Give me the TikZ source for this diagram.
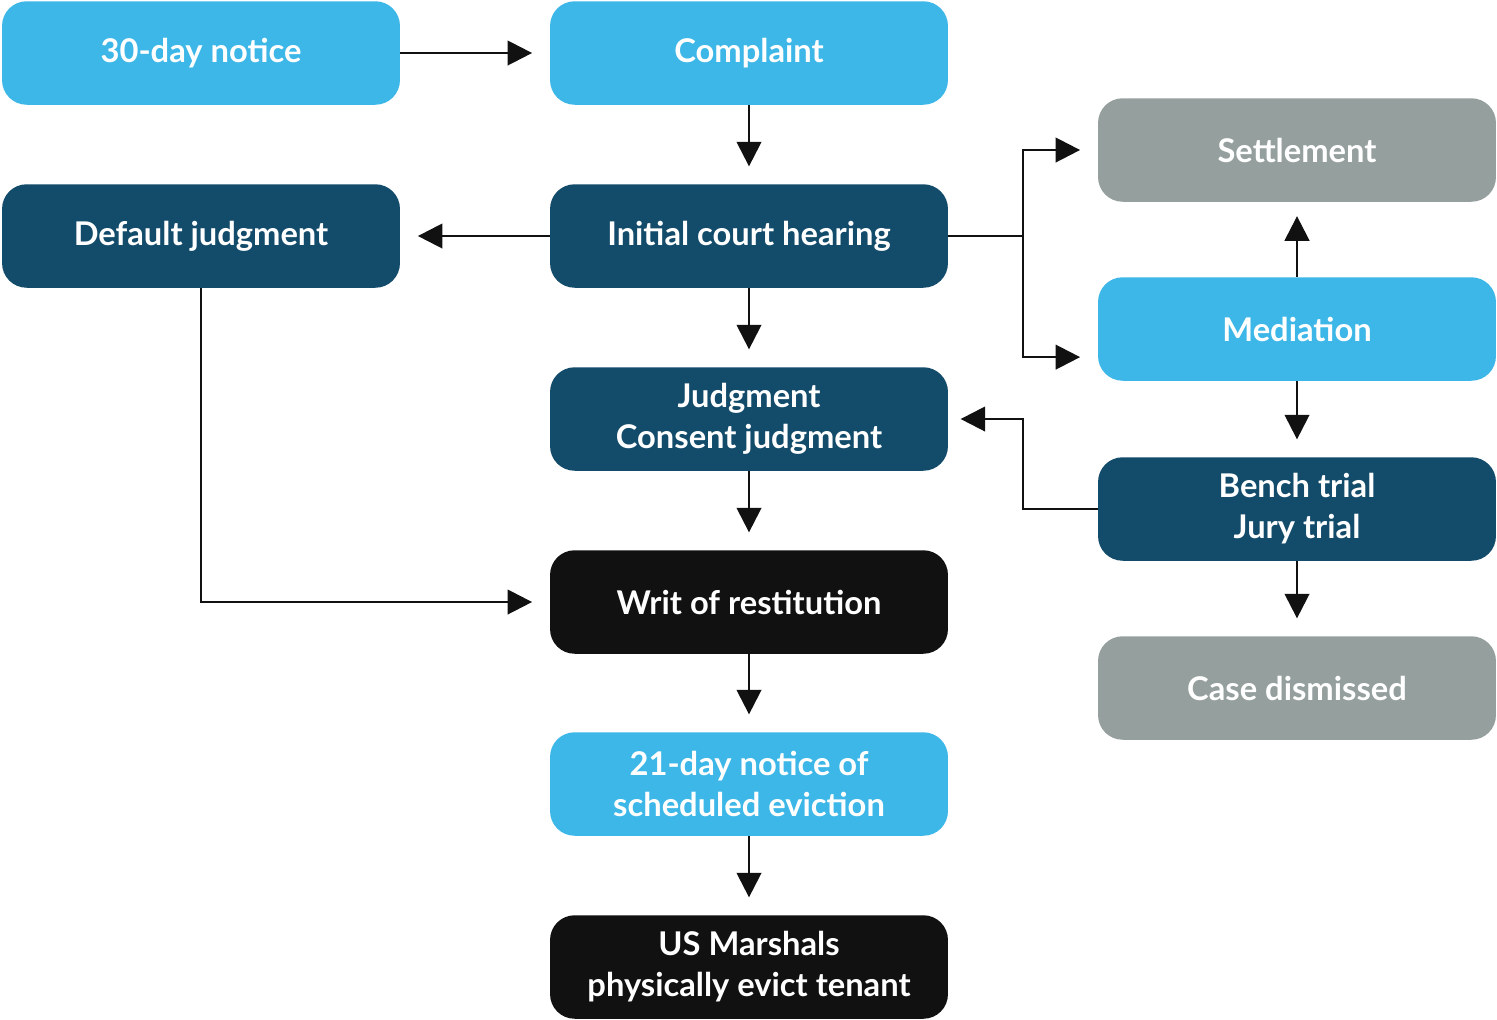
\documentclass[tikz,border=0pt]{standalone}
\usepackage{fontspec}
\setmainfont{Lato}
\usetikzlibrary{arrows.meta}
\definecolor{lblue}{HTML}{3DB7E8}
\definecolor{navy}{HTML}{134B6B}
\definecolor{grayc}{HTML}{95A09E}
\definecolor{blackc}{HTML}{111111}
\tikzset{
  box/.style={rounded corners=14pt, minimum width=7.96cm, minimum height=2.07cm, inner sep=0pt,
    text=white, font=\fontsize{18.6}{23.3}\selectfont\bfseries, align=center},
  lb/.style={box, fill=lblue},
  nv/.style={box, fill=navy},
  gr/.style={box, fill=grayc},
  bk/.style={box, fill=blackc},
  arr/.style={line width=1.4pt, draw=blackc, -{Triangle[length=14pt,width=14pt]}, shorten >=10pt},
  ln/.style={line width=1.4pt, draw=blackc}
}
\begin{document}
\begin{tikzpicture}[x=0.02cm,y=-0.02cm]
\useasboundingbox (0,0) rectangle (1497,1019);
\node[lb] (notice) at (201,53) {30-day notice};
\node[lb] (complaint) at (749,53) {Complaint};
\node[gr] (settle) at (1297,150) {Settlement};
\node[nv] (default) at (201,236) {Default judgment};
\node[nv] (hearing) at (749,236) {Initial court hearing};
\node[lb] (mediation) at (1297,329) {Mediation};
\node[nv] (judgment) at (749,419) {Judgment\\Consent judgment};
\node[nv] (bench) at (1297,509) {Bench trial\\Jury trial};
\node[bk] (writ) at (749,602) {Writ of restitution};
\node[gr] (dismiss) at (1297,688) {Case dismissed};
\node[lb] (notice21) at (749,784) {21-day notice of\\scheduled eviction};
\node[bk] (marshal) at (749,967) {US Marshals\\physically evict tenant};

\coordinate (split) at (1023,236);
\coordinate (merge) at (1023,509);

\draw[arr] (notice) -- (complaint);
\draw[arr] (complaint) -- (hearing);
\draw[arr] (hearing) -- (default);
\draw[arr] (hearing) -- (judgment);
\draw[arr] (judgment) -- (writ);
\draw[arr] (writ) -- (notice21);
\draw[arr] (notice21) -- (marshal);
\draw[ln] (hearing.east) -- (split);
\draw[arr] (split) |- (settle.west);
\draw[arr] (split) |- ([yshift=-16]mediation.west);
\draw[arr, shorten >=8pt] (mediation) -- (settle);
\draw[arr] (mediation) -- (bench);
\draw[arr] (bench) -- (dismiss);
\draw[arr, shorten >=7pt] (bench.west) -- (merge) |- (judgment.east);
\draw[arr] (default.south) |- (writ.west);
\end{tikzpicture}
\end{document}
